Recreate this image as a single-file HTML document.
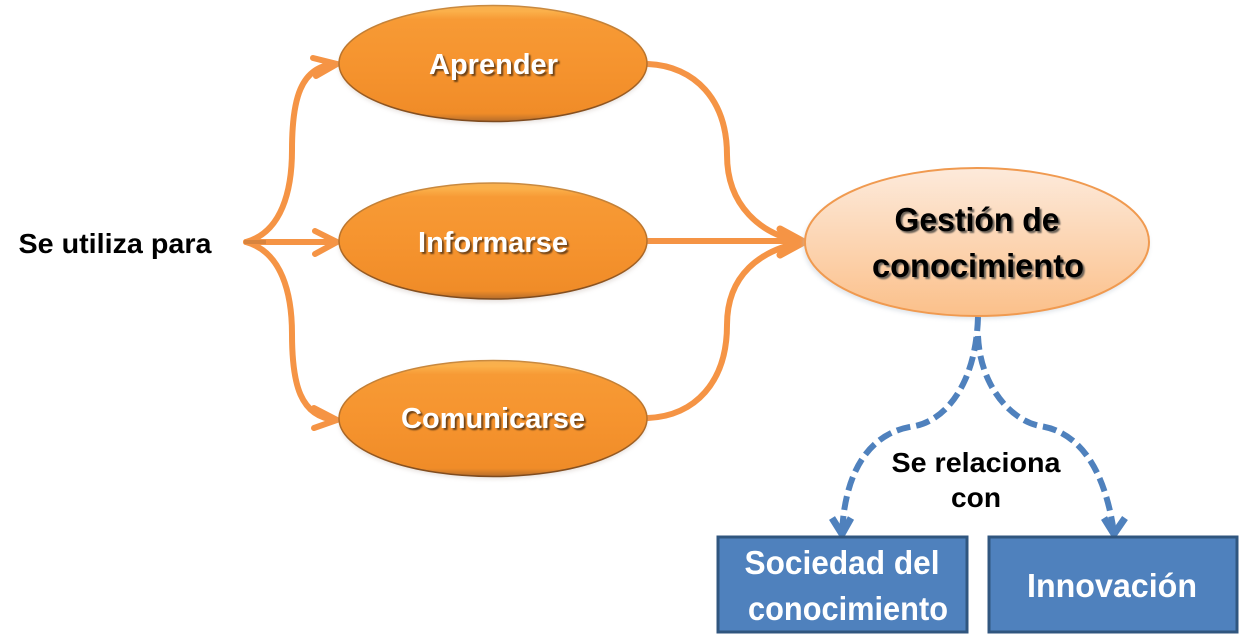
<!DOCTYPE html>
<html>
<head>
<meta charset="utf-8">
<style>
html,body{margin:0;padding:0;background:#fff;width:1240px;height:635px;overflow:hidden}
svg{display:block}
text{font-family:"Liberation Sans",sans-serif;font-weight:bold;text-anchor:middle}
</style>
</head>
<body>
<svg width="1240" height="635" viewBox="0 0 1240 635" xmlns="http://www.w3.org/2000/svg">
<defs>
<linearGradient id="o" x1="0" y1="0" x2="0" y2="1">
<stop offset="0" stop-color="#f7b050"/>
<stop offset="0.05" stop-color="#fbb04a"/>
<stop offset="0.12" stop-color="#f79a35"/>
<stop offset="0.55" stop-color="#f5932e"/>
<stop offset="0.93" stop-color="#f08c28"/>
<stop offset="1" stop-color="#b56c2a"/>
</linearGradient>
<linearGradient id="e" x1="0" y1="0" x2="0" y2="1">
<stop offset="0" stop-color="#c98a40"/>
<stop offset="0.5" stop-color="#b87028"/>
<stop offset="1" stop-color="#7d4a1e"/>
</linearGradient>
<linearGradient id="p" x1="0" y1="0" x2="0" y2="1">
<stop offset="0" stop-color="#fdeadb"/>
<stop offset="1" stop-color="#fbc08a"/>
</linearGradient>
<filter id="s" x="-10%" y="-10%" width="120%" height="125%">
<feGaussianBlur stdDeviation="2"/>
</filter>
<filter id="t" x="-5%" y="-20%" width="110%" height="140%">
<feGaussianBlur stdDeviation="0.9"/>
</filter>
</defs>

<!-- left connectors -->
<g fill="none" stroke="#f59445" stroke-width="6" stroke-linejoin="miter" stroke-linecap="round">
<path d="M246 242 C282 232 292 190 292 150 C292 100 300 66 336 64"/>
<path d="M313 58 L337 64 L316 76" />
<path d="M246 242 H336"/>
<path d="M315 231 L337 242 L315 254"/>
<path d="M246 242 C282 252 292 294 292 334 C292 384 300 417 336 420"/>
<path d="M314 408 L337 420 L314 428"/>
<path d="M648 64 C695 66 727 100 727 155 C727 205 760 235 803 242"/>
<path d="M648 241 H800"/>
<path d="M648 418 C695 416 727 382 727 325 C727 275 760 250 803 242"/>
<path d="M780 229 L804 242 L780 255" stroke-width="7"/>
</g>
<path d="M244 240 h22 v4 h-22z" fill="#c47a3a" opacity=".6"/>

<!-- orange ellipses -->
<g>
<ellipse cx="493" cy="66" rx="154" ry="58" fill="#b9a9a0" opacity=".35" filter="url(#s)"/>
<ellipse cx="493" cy="63.5" rx="154" ry="58" fill="url(#o)" stroke="url(#e)" stroke-width="1.5"/>
<ellipse cx="493" cy="244" rx="154" ry="58" fill="#b9a9a0" opacity=".35" filter="url(#s)"/>
<ellipse cx="493" cy="241" rx="154" ry="58" fill="url(#o)" stroke="url(#e)" stroke-width="1.5"/>
<ellipse cx="493" cy="421" rx="154" ry="58" fill="#b9a9a0" opacity=".35" filter="url(#s)"/>
<ellipse cx="493" cy="418.5" rx="154" ry="58" fill="url(#o)" stroke="url(#e)" stroke-width="1.5"/>
</g>

<!-- pale ellipse -->
<ellipse cx="976" cy="245" rx="173" ry="74" fill="#b9c4d0" opacity=".45" filter="url(#s)"/>
<ellipse cx="977" cy="242" rx="172" ry="74" fill="url(#p)" stroke="#f09a50" stroke-width="2"/>

<!-- dashed connectors -->
<g fill="none" stroke="#4f81bd" stroke-width="6">
<path d="M978 317 C976 385 945 420 915 426 C870 432 845 470 842 533" stroke-dasharray="14 6"/>
<path d="M978 336 C980 385 1010 420 1040 426 C1080 432 1105 470 1114 533" stroke-dasharray="14 6"/>
<path d="M832 518 L842 534 L851 518" stroke-width="7"/>
<path d="M1104 518 L1114 534 L1125 518" stroke-width="7"/>
</g>

<!-- boxes -->
<rect x="718" y="537" width="249" height="95" fill="#4f81bd" stroke="#30567f" stroke-width="3"/>
<rect x="989" y="537" width="248" height="95" fill="#4f81bd" stroke="#30567f" stroke-width="3"/>

<!-- text -->
<text x="115" y="253" font-size="28" fill="#000" textLength="193" lengthAdjust="spacingAndGlyphs">Se utiliza para</text>
<text x="976" y="472" font-size="28" fill="#000" textLength="169" lengthAdjust="spacingAndGlyphs">Se relaciona</text>
<text x="976" y="507" font-size="28" fill="#000" textLength="50" lengthAdjust="spacingAndGlyphs">con</text>

<g font-size="29">
<g filter="url(#t)" fill="#6e4318">
<text x="495.5" y="76" textLength="129" lengthAdjust="spacingAndGlyphs">Aprender</text>
<text x="495" y="254" textLength="150" lengthAdjust="spacingAndGlyphs">Informarse</text>
<text x="495" y="430" textLength="184" lengthAdjust="spacingAndGlyphs">Comunicarse</text>
</g>
<text x="493.5" y="74" fill="#fff" textLength="129" lengthAdjust="spacingAndGlyphs">Aprender</text>
<text x="493" y="252" fill="#fff" textLength="150" lengthAdjust="spacingAndGlyphs">Informarse</text>
<text x="493" y="428" fill="#fff" textLength="184" lengthAdjust="spacingAndGlyphs">Comunicarse</text>
</g>

<g font-size="33">
<g filter="url(#t)" fill="#6b6258">
<text x="979" y="233" textLength="165" lengthAdjust="spacingAndGlyphs">Gestión de</text>
<text x="980" y="279" textLength="212" lengthAdjust="spacingAndGlyphs">conocimiento</text>
</g>
<text x="977" y="231" fill="#000" textLength="165" lengthAdjust="spacingAndGlyphs">Gestión de</text>
<text x="978" y="277" fill="#000" textLength="212" lengthAdjust="spacingAndGlyphs">conocimiento</text>
</g>

<g font-size="33" fill="#fff">
<text x="842" y="574" textLength="195" lengthAdjust="spacingAndGlyphs">Sociedad del</text>
<text x="848" y="620" textLength="200" lengthAdjust="spacingAndGlyphs">conocimiento</text>
<text x="1112" y="597" textLength="170" lengthAdjust="spacingAndGlyphs">Innovación</text>
</g>
</svg>
</body>
</html>
